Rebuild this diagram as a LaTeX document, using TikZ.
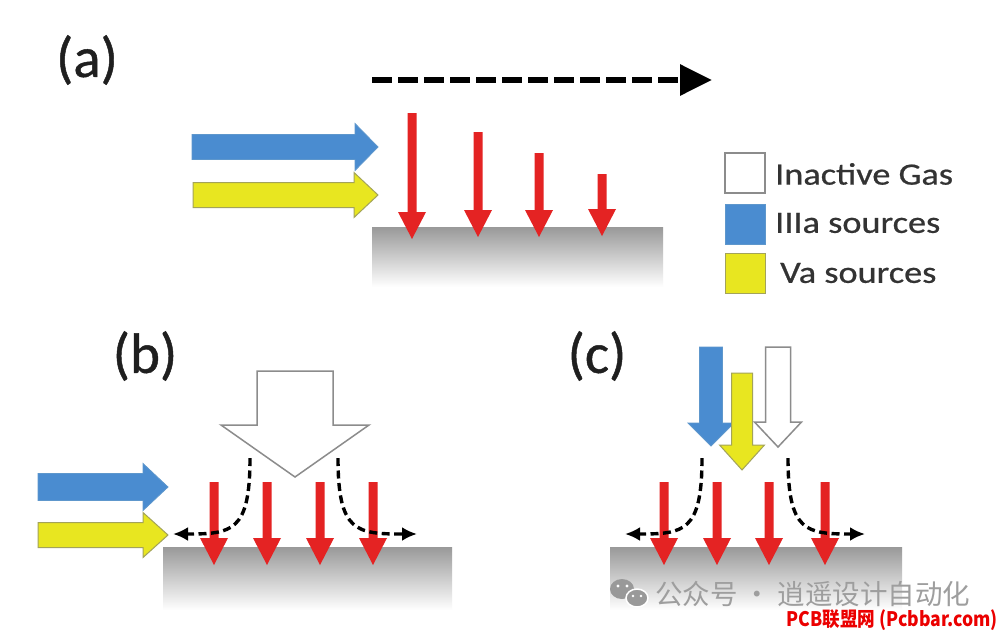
\documentclass[tikz,border=0pt]{standalone}
\usepackage{fontspec}
\setmainfont{Carlito}[FakeBold=0.6]
\newfontfamily\cjk{Noto Sans CJK SC}
\newfontfamily\labfont{Carlito}[FakeBold=0.8]
\usetikzlibrary{arrows.meta}
\definecolor{blueA}{HTML}{4A8CD0}
\definecolor{blueB}{HTML}{5E97CC}
\definecolor{yellowA}{HTML}{E8E620}
\definecolor{yellowB}{HTML}{A3A35A}
\definecolor{redA}{HTML}{E42323}
\definecolor{grayB}{HTML}{8C8C8C}
\definecolor{txt}{HTML}{333333}
\newcommand\dnarrow[7]{% style, xc, top, headbase, tip, shafthalf, headhalf
  \filldraw[#1] ({#2-#6},#3) -- ({#2+#6},#3) -- ({#2+#6},#4) -- ({#2+#7},#4) -- (#2,#5) -- ({#2-#7},#4) -- ({#2-#6},#4) -- cycle;}
\newcommand\rtarrow[7]{% style, yc, left, headbase, tip, shafthalf, headhalf
  \filldraw[#1] (#3,{#2-#6}) -- (#4,{#2-#6}) -- (#4,{#2-#7}) -- (#5,#2) -- (#4,{#2+#7}) -- (#4,{#2+#6}) -- (#3,{#2+#6}) -- cycle;}
\newcommand\redarrow[3]{\dnarrow{redarr}{#1}{#2}{#3-27}{#3}{4.5}{14}}
\tikzset{
  redarr/.style={fill=redA, draw=none},
  bluearr/.style={fill=blueA, draw=blueB, line width=0.8pt},
  yellowarr/.style={fill=yellowA, draw=yellowB, line width=1pt},
  whitearr/.style={fill=white, draw=grayB, line width=1.5pt},
  substrate/.style={top color=black!40, bottom color=white},
  flow/.style={black, line width=3.4pt, dash pattern=on 8pt off 4.5pt, -{Latex[length=15pt,width=14pt]}},
  lbl/.style={font=\labfont\fontsize{57}{57}\selectfont, text=black!88, inner sep=0pt},
  leg/.style={font=\fontsize{31}{31}\selectfont, text=txt, inner sep=0pt, anchor=west},
  legbox/.style={minimum width=40pt, minimum height=40pt, inner sep=0pt, line width=1.5pt}
}
\begin{document}
\begin{tikzpicture}[x=1pt,y=-1pt]
\useasboundingbox (0,0) rectangle (998,635);
\fill[white] (0,0) rectangle (998,635);

% ---------- panel (a) ----------
\node[lbl] (la) at (87,60) {(a)};
\draw[line width=6pt, dash pattern=on 20pt off 6pt, -{Triangle[length=32pt,width=30pt]}] (372,80) -- (712,80);
\shade[substrate] (372,227) rectangle (663,287);
\rtarrow{bluearr}{147}{192}{355}{378}{12.5}{23.5}
\rtarrow{yellowarr}{195}{193}{354}{378}{12.5}{22.5}
\redarrow{412}{113}{239}
\redarrow{478}{132}{237}
\redarrow{539}{153}{237}
\redarrow{602}{174}{236}

% ---------- legend ----------
\node[legbox, draw=grayB, fill=white] (k1) at (745,173) {};
\node[legbox, fill=blueA, draw=blueB, line width=0.8pt] (k2) at (745,224) {};
\node[legbox, fill=yellowA, draw=yellowB, line width=1pt] (k3) at (745,273) {};
\begin{scope}
\clip (770,140) rectangle (955,205);
\node[leg] (t1) at (775,174) {\scalebox{1.17}[1]{Inactive Gas}};
\end{scope}
\node[leg] (t2) at (775,223) {\scalebox{1.17}[1]{IIIa sources}};
\node[leg] (t3) at (780,273) {\scalebox{1.17}[1]{Va sources}};

% ---------- panel (b) ----------
\node[lbl] (lb) at (145,356) {(b)};
\shade[substrate] (163,547) rectangle (452,610);
\dnarrow{whitearr}{295}{371}{425}{477}{38}{74}
\rtarrow{bluearr}{487}{38}{143}{168}{13.5}{23.5}
\rtarrow{yellowarr}{535}{38}{143}{168}{12.5}{22.5}
\redarrow{214}{482}{565}
\redarrow{267}{482}{565}
\redarrow{320}{482}{565}
\redarrow{373}{482}{565}
\draw[flow] (250,458) .. controls (250,532) and (232,534) .. (173,534);
\draw[flow] (338,458) .. controls (338,532) and (356,534) .. (417,534);

% ---------- panel (c) ----------
\node[lbl] (lc) at (597,356) {(c)};
\shade[substrate] (610,547) rectangle (902,610);
\dnarrow{bluearr}{711}{347}{423}{446}{11.5}{23}
\dnarrow{whitearr}{778}{347}{422}{447}{12.5}{23.5}
\dnarrow{yellowarr}{742}{373}{445}{470}{10.5}{22.5}
\redarrow{664}{482}{565}
\redarrow{717}{482}{565}
\redarrow{769}{482}{565}
\redarrow{825}{482}{565}
\draw[flow] (702,458) .. controls (702,532) and (684,534) .. (625,534);
\draw[flow] (788,458) .. controls (788,532) and (806,534) .. (865,534);

% ---------- watermark ----------
\fill[black!40] (622,589) ellipse [x radius=12, y radius=10];
\filldraw[fill=black!40, draw=white, line width=1.5pt] (637,598) ellipse [x radius=11, y radius=9];
\fill[white] (618,586) circle (1.6) (627,586) circle (1.6) (633,596) circle (1.4) (641,596) circle (1.4);
\node[text=black!38, font=\cjk\fontsize{27.5}{27.5}\selectfont, anchor=west, inner sep=0pt] (wm) at (655,594) {公众号 · 逍遥设计自动化};
\node[text=red!92!black, font=\cjk\bfseries\fontsize{20}{20}\selectfont, anchor=east, inner sep=0pt] (wm2) at (998,620) {\scalebox{0.88}[1]{PCB联盟网 (Pcbbar.com)}};
\end{tikzpicture}
\end{document}
